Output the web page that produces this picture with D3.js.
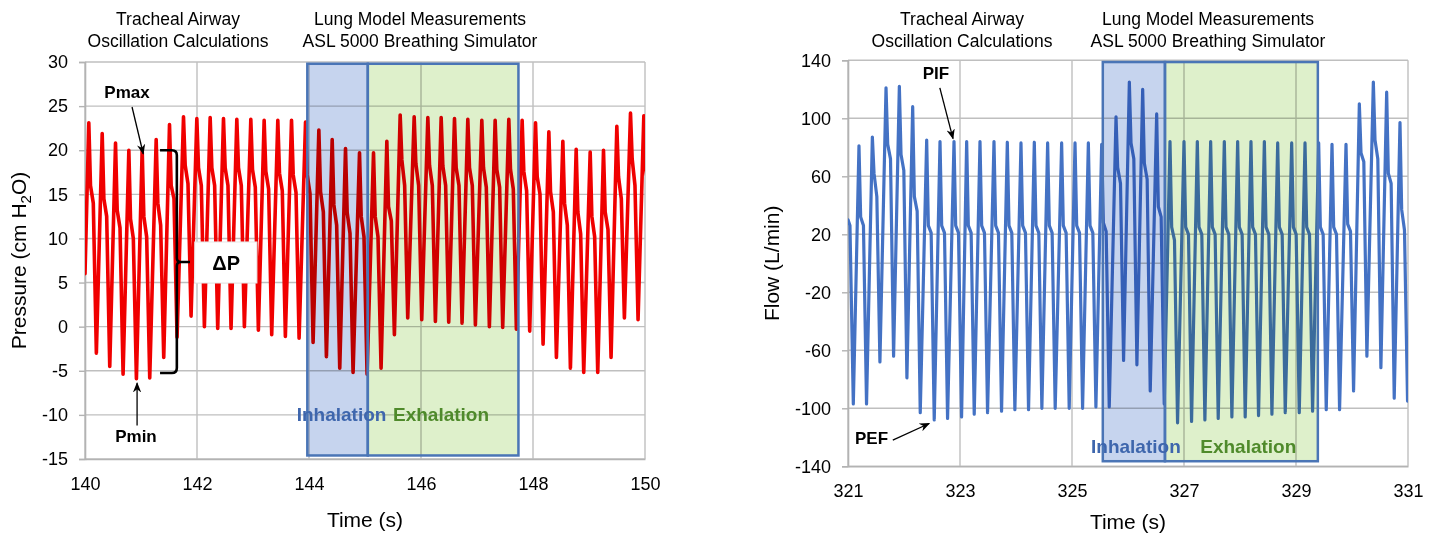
<!DOCTYPE html>
<html>
<head>
<meta charset="utf-8">
<script src="https://cdn.jsdelivr.net/npm/d3@7"></script>
<style>
body { margin: 0; background: #fff; }
svg { display: block; font-family: "Liberation Sans", Arial, sans-serif; }
</style>
</head>
<body>
<svg id="chart" width="1435" height="537"></svg>
<script>
// ---- pressure panel (cm H2O vs s) ----
const pressTicksX = [140, 142, 144, 146, 148, 150]
const pressTicksY = [30, 25, 20, 15, 10, 5, 0, -5, -10, -15]
const pressLead = [[140, 6]]
const pressPeakTime = [140.068, 140.307, 140.545, 140.783, 141.021, 141.271, 141.509, 141.759, 141.997, 142.235,
    142.473, 142.711, 142.961, 143.199, 143.443, 143.688, 143.938, 144.176, 144.414, 144.652, 144.902, 145.152,
    145.390, 145.628, 145.878, 146.122, 146.360, 146.598, 146.836, 147.086, 147.324, 147.568, 147.806, 148.045,
    148.283, 148.533, 148.771, 149.021, 149.259, 149.497, 149.741, 149.979]
const pressPeak = [23.1, 21.9, 20.8, 20.0, 20.1, 21.2, 22.9, 23.8, 23.6, 23.7, 23.6, 23.5, 23.5, 23.4, 23.4, 23.4,
    23.2, 22.3, 21.2, 20.2, 19.7, 19.7, 21.0, 24.0, 23.8, 23.7, 23.7, 23.6, 23.5, 23.4, 23.4, 23.5, 23.4, 23.1,
    22.1, 21.0, 20.1, 19.8, 20.0, 22.7, 24.2, 23.9]
const pressShoulderHi = [16.0, 14.5, 13.2, 12.2, 12.5, 14.0, 16.0, 18.3, 18.0, 18.0, 18.0, 18.0, 17.8, 17.6, 17.4,
    17.2, 17.2, 15.3, 13.8, 12.9, 12.5, 12.5, 13.6, 18.9, 18.5, 18.3, 18.2, 18.0, 18.0, 18.0, 17.8, 17.8, 17.6,
    17.0, 15.3, 14.0, 13.0, 12.5, 13.0, 17.0, 19.0, 18.0]
const pressShoulderLo = [14.0, 12.5, 11.2, 10.0, 10.2, 11.5, 14.5, 16.2, 16.0, 16.0, 16.0, 16.0, 15.8, 15.6, 15.4,
    15.2, 15.1, 13.0, 11.5, 10.6, 10.2, 10.2, 12.0, 16.0, 16.0, 16.0, 16.0, 16.0, 16.0, 15.8, 15.8, 15.6, 15.4,
    15.0, 13.0, 11.5, 10.5, 10.2, 11.0, 14.5, 16.0, 16.0]
const pressTrough = [-3.0, -4.5, -5.4, -5.9, -5.8, -3.5, -1.2, 1.2, 0.0, -0.2, -0.2, 0.0, -0.4, -0.9, -1.1, -1.3,
    -1.8, -3.4, -4.7, -5.2, -5.4, -4.7, -0.9, 1.0, 0.8, 0.6, 0.5, 0.4, 0.2, 0.0, -0.1, -0.3, -0.5, -2.0, -3.5,
    -4.7, -5.2, -5.2, -3.5, 1.0, 0.8, 0.5]
const pressInhale = [143.97, 145.05]
const pressExhale = [145.05, 147.74]
const pressBoxRange = [29.8, -14.6]

// ---- flow panel (L/min vs s) ----
const flowTicksX = [321, 323, 325, 327, 329, 331]
const flowTicksY = [140, 100, 60, 20, -20, -60, -100, -140]
const flowLead = [[321, 30], [321.035, 26], [321.095, -97]]
const flowPeakTime = [321.196, 321.435, 321.679, 321.917, 322.155, 322.405, 322.643, 322.893, 323.119, 323.357,
    323.607, 323.845, 324.089, 324.327, 324.565, 324.815, 325.054, 325.292, 325.530, 325.786, 326.024, 326.262,
    326.512, 326.750, 327.000, 327.238, 327.476, 327.720, 327.958, 328.196, 328.435, 328.673, 328.923, 329.161,
    329.405, 329.643, 329.893, 330.131, 330.381, 330.619, 330.857]
const flowPeak = [81, 87, 121, 122, 108, 85, 84, 84, 84, 84, 84, 83.5, 83, 83.5, 83, 83, 83, 83, 82, 101, 125,
    120, 103, 84, 84, 84, 84, 84, 84, 84, 84, 83, 83, 83, 83, 82, 82, 110, 125, 118, 97]
const flowShoulderHi = [32, 62, 82, 75, 46, 26, 26, 26, 26, 26, 26, 26, 26, 26, 26, 26, 26, 26, 28, 66, 83, 69,
    39, 25, 25, 25, 25, 25, 25, 25, 25, 25, 25, 25, 25, 25, 27, 76, 85, 62, 37]
const flowShoulderLo = [26, 46, 72, 64, 36, 21, 21, 21, 21, 21, 21, 21, 21, 21, 21, 21, 21, 21, 22, 55, 72, 58,
    32, 16, 20, 20, 20, 20, 20, 20, 20, 20, 20, 20, 20, 20, 22, 70, 72, 55, 23]
const flowTrough = [-97, -68, -64, -79, -103, -108, -107, -106, -104, -103, -102, -101, -101, -100, -100, -100,
    -100, -99, -99, -67, -70, -88, -97, -110, -109, -108, -107, -106, -106, -105, -104, -103, -103, -102, -101,
    -101, -88, -64, -72, -93, -95]
const flowInhale = [325.55, 326.66]
const flowExhale = [326.66, 329.39]
const flowBoxRange = [138.8, -136.5]

const svg = d3.select('#chart')
const defs = svg.append('defs')

defs.append('marker')
    .attr('id', 'arrow')
    .attr('viewBox', '0 0 10 10')
    .attr('refX', 9).attr('refY', 5)
    .attr('markerWidth', 8).attr('markerHeight', 8)
    .attr('orient', 'auto')
    .append('path')
        .attr('d', 'M0,1 L10,5 L0,9 L3,5 Z')
        .attr('fill', '#000')

function cyclePoints(lead, times, peak, hi, lo, trough) {
    const pts = lead.slice()
    times.forEach((t, i) => {
        pts.push([t, peak[i]], [t + 0.03, hi[i]], [t + 0.08, lo[i]], [t + 0.135, trough[i]])
    })
    return pts
}

function drawPanel(cfg) {
    const x = d3.scaleLinear().domain(cfg.xDomain).range([cfg.left, cfg.right])
    const y = d3.scaleLinear().domain(cfg.yDomain).range([cfg.top, cfg.bottom])
    const g = svg.append('g')

    // grid
    g.append('g').selectAll('line')
        .data(cfg.yTicks)
        .enter().append('line')
            .attr('x1', cfg.left).attr('x2', cfg.right)
            .attr('y1', d => y(d)).attr('y2', d => y(d))
            .attr('stroke', '#bfbfbf').attr('stroke-width', 1.4)
    g.append('g').selectAll('line')
        .data(cfg.xTicks)
        .enter().append('line')
            .attr('x1', d => x(d)).attr('x2', d => x(d))
            .attr('y1', cfg.top).attr('y2', cfg.bottom)
            .attr('stroke', '#bfbfbf').attr('stroke-width', 1.4)
    if (cfg.zeroLine) {
        g.append('line')
            .attr('x1', cfg.left).attr('x2', cfg.right)
            .attr('y1', y(0)).attr('y2', y(0))
            .attr('stroke', '#bfbfbf').attr('stroke-width', 1.4)
    }

    // axes
    const yAxis = g.append('g')
        .attr('transform', `translate(${cfg.left},0)`)
        .call(d3.axisLeft(y).tickValues(cfg.yTicks).tickSize(6).tickPadding(11).tickFormat(d => String(d)))
    const xAxis = g.append('g')
        .attr('transform', `translate(0,${cfg.bottom})`)
        .call(d3.axisBottom(x).tickValues(cfg.xTicks).tickSize(0).tickPadding(18).tickFormat(d => String(d)))
    ;[yAxis, xAxis].forEach(a => {
        a.select('.domain').attr('stroke', '#b3b3b3').attr('stroke-width', 1.6)
        a.selectAll('.tick line').attr('stroke', '#b3b3b3').attr('stroke-width', 1.4)
        a.selectAll('.tick text').attr('fill', '#000').style('font-size', '18px')
            .style('font-family', '"Liberation Sans", Arial, sans-serif')
    })

    // signal
    const clipId = 'clip-' + cfg.id
    defs.append('clipPath').attr('id', clipId)
        .append('rect')
            .attr('x', cfg.left).attr('y', cfg.top)
            .attr('width', cfg.right - cfg.left).attr('height', cfg.bottom - cfg.top)

    g.append('path')
        .datum(cfg.points)
        .attr('clip-path', `url(#${clipId})`)
        .attr('fill', 'none')
        .attr('stroke', cfg.color)
        .attr('stroke-width', cfg.lineWidth)
        .attr('stroke-linejoin', 'round')
        .attr('stroke-linecap', 'round')
        .attr('d', d3.line().x(d => x(d[0])).y(d => y(d[1])))

    // inhalation / exhalation windows, tinted over the trace
    const boxes = [
        {span: cfg.inhale, fill: '#c6d4ee'},
        {span: cfg.exhale, fill: '#def0cb'}
    ]
    g.append('g').selectAll('rect')
        .data(boxes)
        .enter().append('rect')
            .attr('x', d => x(d.span[0]))
            .attr('y', y(cfg.boxRange[0]))
            .attr('width', d => x(d.span[1]) - x(d.span[0]))
            .attr('height', y(cfg.boxRange[1]) - y(cfg.boxRange[0]))
            .attr('fill', d => d.fill)
            .style('mix-blend-mode', 'multiply')
    g.append('g').selectAll('rect')
        .data(boxes)
        .enter().append('rect')
            .attr('x', d => x(d.span[0]))
            .attr('y', y(cfg.boxRange[0]))
            .attr('width', d => x(d.span[1]) - x(d.span[0]))
            .attr('height', y(cfg.boxRange[1]) - y(cfg.boxRange[0]))
            .attr('fill', 'none')
            .attr('stroke', '#4a75b6')
            .attr('stroke-width', 2.5)

    g.append('text')
        .attr('x', x(cfg.inhaleLabel[0])).attr('y', y(cfg.inhaleLabel[1]))
        .attr('fill', '#3e66ad')
        .style('font-size', '19px').style('font-weight', 'bold')
        .text('Inhalation')
    g.append('text')
        .attr('x', x(cfg.exhaleLabel[0])).attr('y', y(cfg.exhaleLabel[1]))
        .attr('fill', '#4f8a2b')
        .style('font-size', '19px').style('font-weight', 'bold')
        .text('Exhalation')

    // headings
    const heads = [
        {cx: cfg.head1, lines: ['Tracheal Airway', 'Oscillation Calculations']},
        {cx: cfg.head2, lines: ['Lung Model Measurements', 'ASL 5000 Breathing Simulator']}
    ]
    heads.forEach(h => {
        h.lines.forEach((s, i) => {
            g.append('text')
                .attr('x', h.cx).attr('y', 25 + i * 22)
                .attr('text-anchor', 'middle')
                .style('font-size', '17.5px')
                .text(s)
        })
    })

    // axis titles
    g.append('text')
        .attr('x', (cfg.left + cfg.right) / 2).attr('y', cfg.xTitleY)
        .attr('text-anchor', 'middle')
        .style('font-size', '21px')
        .text('Time (s)')

    const yt = g.append('text')
        .attr('transform', `translate(${cfg.yTitleX},${(cfg.top + cfg.bottom) / 2}) rotate(-90)`)
        .attr('text-anchor', 'middle')
        .style('font-size', '21px')
    cfg.yTitle(yt)

    return {x: x, y: y, g: g}
}

function arrow(p, from, to) {
    p.g.append('line')
        .attr('x1', p.x(from[0])).attr('y1', p.y(from[1]))
        .attr('x2', p.x(to[0])).attr('y2', p.y(to[1]))
        .attr('stroke', '#000').attr('stroke-width', 1.3)
        .attr('marker-end', 'url(#arrow)')
}

function boldLabel(p, pos, s) {
    p.g.append('text')
        .attr('x', p.x(pos[0])).attr('y', p.y(pos[1]))
        .attr('dy', '0.35em')
        .attr('text-anchor', 'middle')
        .style('font-size', '17px').style('font-weight', 'bold')
        .text(s)
}

const press = drawPanel({
    id: 'press',
    left: 85, right: 645, top: 62, bottom: 459,
    xDomain: [140, 150], yDomain: [30, -15],
    xTicks: pressTicksX, yTicks: pressTicksY,
    points: cyclePoints(pressLead, pressPeakTime, pressPeak, pressShoulderHi, pressShoulderLo, pressTrough),
    color: '#f00000', lineWidth: 3.6,
    inhale: pressInhale, exhale: pressExhale, boxRange: pressBoxRange,
    inhaleLabel: [143.78, -10.7], exhaleLabel: [145.5, -10.7],
    head1: 178, head2: 420,
    xTitleY: 527,
    yTitleX: 26,
    yTitle: t => {
        t.append('tspan').text('Pressure (cm H')
        t.append('tspan').attr('dy', 5).style('font-size', '15px').text('2')
        t.append('tspan').attr('dy', -5).text('O)')
    }
})

const flow = drawPanel({
    id: 'flow',
    left: 848, right: 1408, top: 60.3, bottom: 466.3,
    xDomain: [321, 331], yDomain: [140, -140],
    xTicks: flowTicksX, yTicks: flowTicksY, zeroLine: true,
    points: cyclePoints(flowLead, flowPeakTime, flowPeak, flowShoulderHi, flowShoulderLo, flowTrough),
    color: '#4472c4', lineWidth: 3.2,
    inhale: flowInhale, exhale: flowExhale, boxRange: flowBoxRange,
    inhaleLabel: [325.34, -130.8], exhaleLabel: [327.29, -130.8],
    head1: 962, head2: 1208,
    xTitleY: 529,
    yTitleX: 779,
    yTitle: t => t.text('Flow (L/min)')
})

// pressure annotations
boldLabel(press, [140.75, 26.6], 'Pmax')
arrow(press, [140.84, 24.9], [141.04, 19.6])
boldLabel(press, [140.91, -12.4], 'Pmin')
arrow(press, [140.93, -11.2], [140.93, -6.4])

const bx = press.x, by = press.y
const braceL = bx(141.34), braceX = bx(141.64), braceTip = bx(141.875)
const bTop = by(20.0), bMid = by(7.33), bBot = by(-5.25)
press.g.append('path')
    .attr('d', `M${braceL},${bTop} L${braceX - 5},${bTop} Q${braceX},${bTop} ${braceX},${bTop + 5}
        L${braceX},${bMid - 4} Q${braceX},${bMid} ${braceX + 4},${bMid} L${braceTip},${bMid}
        M${braceX + 4},${bMid} Q${braceX},${bMid} ${braceX},${bMid + 4}
        L${braceX},${bBot - 5} Q${braceX},${bBot} ${braceX - 5},${bBot} L${braceL},${bBot}`)
    .attr('fill', 'none').attr('stroke', '#000').attr('stroke-width', 2.6)

press.g.append('rect')
    .attr('x', bx(141.96)).attr('y', by(9.6))
    .attr('width', bx(143.07) - bx(141.96)).attr('height', by(4.95) - by(9.6))
    .attr('fill', '#fff').attr('stroke', '#e6e6e6').attr('stroke-width', 1)
press.g.append('text')
    .attr('x', bx(142.52)).attr('y', by(7.25))
    .attr('dy', '0.35em').attr('text-anchor', 'middle')
    .style('font-size', '20px').style('font-weight', 'bold')
    .text('ΔP')

// flow annotations
boldLabel(flow, [322.57, 131.2], 'PIF')
arrow(flow, [322.64, 121], [322.875, 86])
boldLabel(flow, [321.42, -120.8], 'PEF')
arrow(flow, [321.8, -121.9], [322.45, -110.5])
</script>
</body>
</html>
